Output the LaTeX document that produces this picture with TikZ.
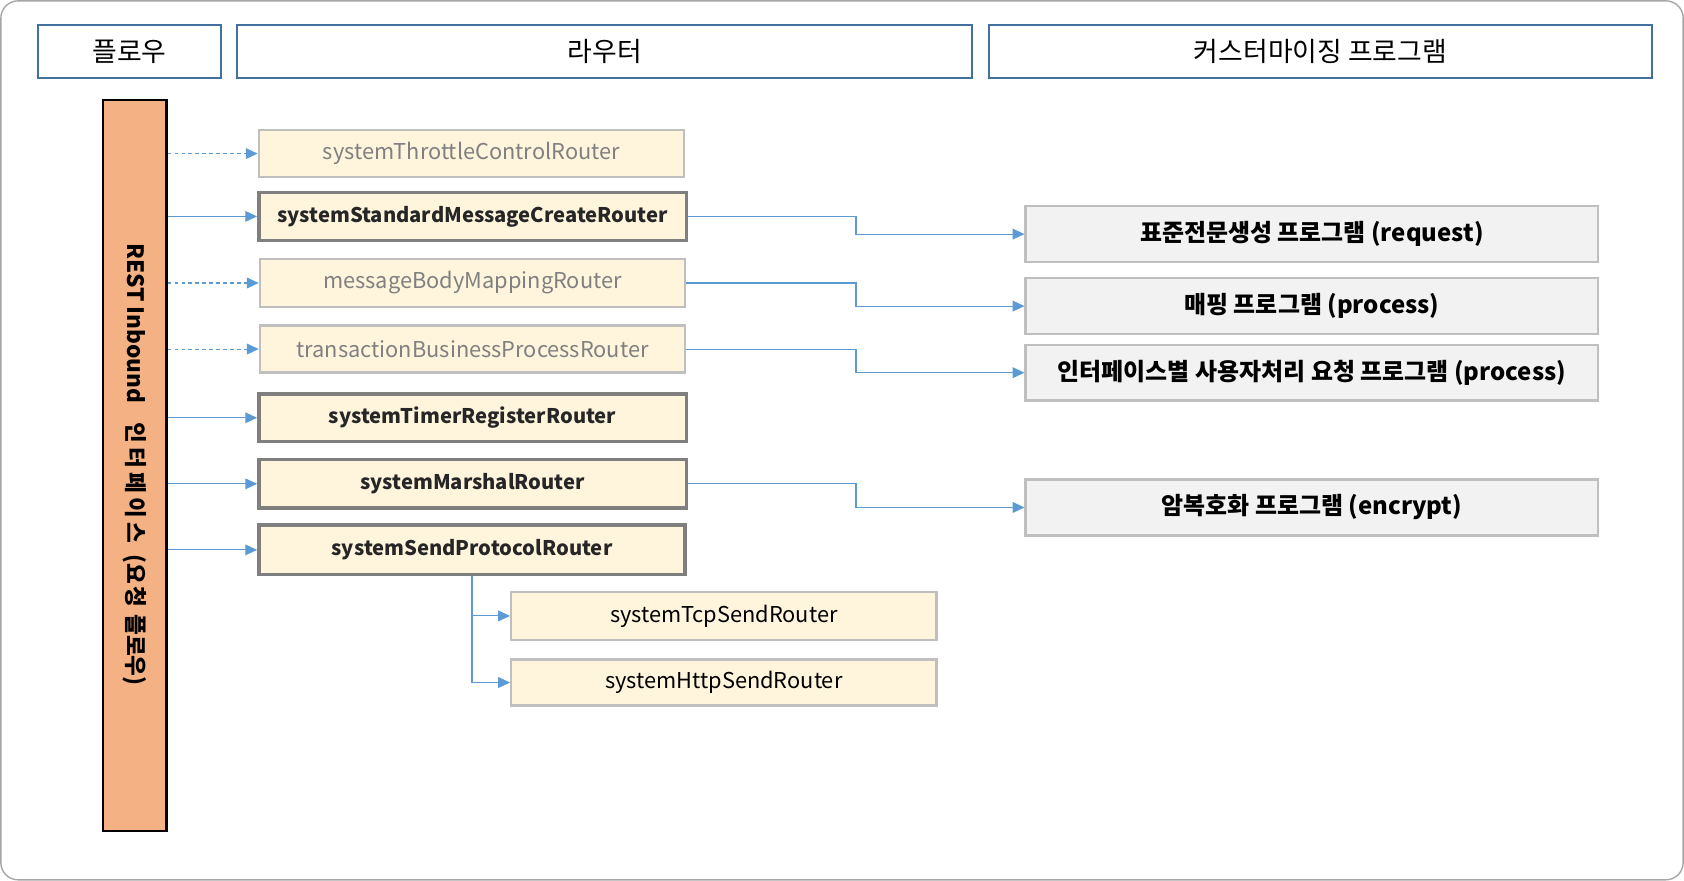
\documentclass[tikz,border=0pt]{standalone}
\usepackage{fontspec}
\setmainfont{Noto Sans CJK KR}
\usetikzlibrary{arrows.meta}
\definecolor{hdr}{HTML}{41719C}
\definecolor{framec}{HTML}{A6A6A6}
\definecolor{barfill}{HTML}{F4B183}
\definecolor{cream}{HTML}{FFF5DD}
\definecolor{lightb}{HTML}{BFBFBF}
\definecolor{darkb}{HTML}{7F7F7F}
\definecolor{graytxt}{HTML}{808080}
\definecolor{progfill}{HTML}{F2F2F2}
\definecolor{arrblue}{HTML}{5B9BD5}
\definecolor{darktxt}{HTML}{262626}
\begin{document}
\begin{tikzpicture}[x=1pt,y=-1pt,
  hdrbox/.style={draw=hdr, line width=2pt, fill=white, minimum height=50pt, inner sep=0pt,
    font=\fontsize{25}{28}\selectfont},
  lightbox/.style={draw=lightb, line width=2.2pt, fill=cream, minimum width=396pt, minimum height=44pt,
    inner sep=0pt, text=graytxt, font=\fontsize{20.3}{24}\selectfont},
  boldbox/.style={draw=darkb, line width=3.2pt, fill=cream, minimum width=398pt, minimum height=44pt,
    inner sep=0pt, text=darktxt, font=\fontsize{18.8}{22}\selectfont\bfseries},
  subbox/.style={lightbox, text=black},
  progbox/.style={draw=lightb, line width=2.2pt, fill=progfill, minimum width=533pt, minimum height=52pt,
    inner sep=0pt, text=black, font=\fontsize{22.3}{26}\selectfont\bfseries},
  arr/.style={draw=arrblue, line width=1pt, -{Triangle[length=11pt,width=10pt]}},
  dasharr/.style={arr, dash pattern=on 3.5pt off 3pt}
]
\useasboundingbox (0,0) rectangle (1568,820);
\draw[framec, line width=1.3pt, rounded corners=16pt] (0.8,0.8) rectangle (1567.2,819.2);

% headers
\node[hdrbox, minimum width=171pt] (h1) at (120.5,48) {플로우};
\node[hdrbox, minimum width=684pt] (h2) at (563,48) {라우터};
\node[hdrbox, minimum width=617pt] (h3) at (1229.5,48) {커스터마이징 프로그램};

% orange bar
\node[draw=black, line width=2pt, fill=barfill, minimum width=59pt, minimum height=681pt, inner sep=0pt] (bar) at (125.5,433.5) {};
\node[rotate=-90, font=\fontsize{21}{24}\selectfont\bfseries, inner sep=0pt] (bartext) at (125.5,432.5)
  {REST Inbound\hspace{18pt}인\hspace{4pt}터\hspace{4pt}페\hspace{4pt}이\hspace{4pt}스\hspace{10pt}(요\hspace{2pt}청\hspace{7pt}플로우)};

% routers
\node[lightbox] (r1) at (439,143) {systemThrottleControlRouter};
\node[boldbox, minimum height=45pt] (r2) at (440,201.5) {systemStandardMessageCreateRouter};
\node[lightbox, minimum height=45pt] (r3) at (440,263.5) {messageBodyMappingRouter};
\node[lightbox] (r4) at (440,325) {transactionBusinessProcessRouter};
\node[boldbox] (r5) at (440,389) {systemTimerRegisterRouter};
\node[boldbox, minimum height=45pt] (r6) at (440,450.5) {systemMarshalRouter};
\node[boldbox, minimum width=397pt, minimum height=46pt] (r7) at (439.5,512) {systemSendProtocolRouter};
\node[subbox, minimum height=45pt] (r8) at (674,573.5) {systemTcpSendRouter};
\node[subbox, minimum height=43pt] (r9) at (674,635.5) {systemHttpSendRouter};

% programs
\node[progbox] (pA) at (1221.5,218) {표준전문생성 프로그램 (request)};
\node[progbox] (pB) at (1221.5,285) {매핑 프로그램 (process)};
\node[progbox] (pC) at (1221.5,347) {인터페이스별 사용자처리 요청 프로그램 (process)};
\node[progbox] (pD) at (1221.5,472.5) {암복호화 프로그램 (encrypt)};

% arrows from bar
\draw[dasharr] (bar.east |- r1.west) -- (r1.west);
\draw[arr] (bar.east |- r2.west) -- (r2.west);
\draw[dasharr] (bar.east |- r3.west) -- (r3.west);
\draw[dasharr] (bar.east |- r4.west) -- (r4.west);
\draw[arr] (bar.east |- r5.west) -- (r5.west);
\draw[arr] (bar.east |- r6.west) -- (r6.west);
\draw[arr] (bar.east |- r7.west) -- (r7.west);

% router -> program
\coordinate (bx) at (797,0);
\draw[arr] (r2.east) -- (r2.east -| bx) |- (pA.west);
\draw[arr] (r3.east) -- (r3.east -| bx) |- (pB.west);
\draw[arr] (r4.east) -- (r4.east -| bx) |- (pC.west);
\draw[arr] (r6.east) -- (r6.east -| bx) |- (pD.west);

% send protocol branches
\draw[arr] (r7.south) |- (r8.west);
\draw[arr] (r7.south) |- (r9.west);
\end{tikzpicture}
\end{document}
